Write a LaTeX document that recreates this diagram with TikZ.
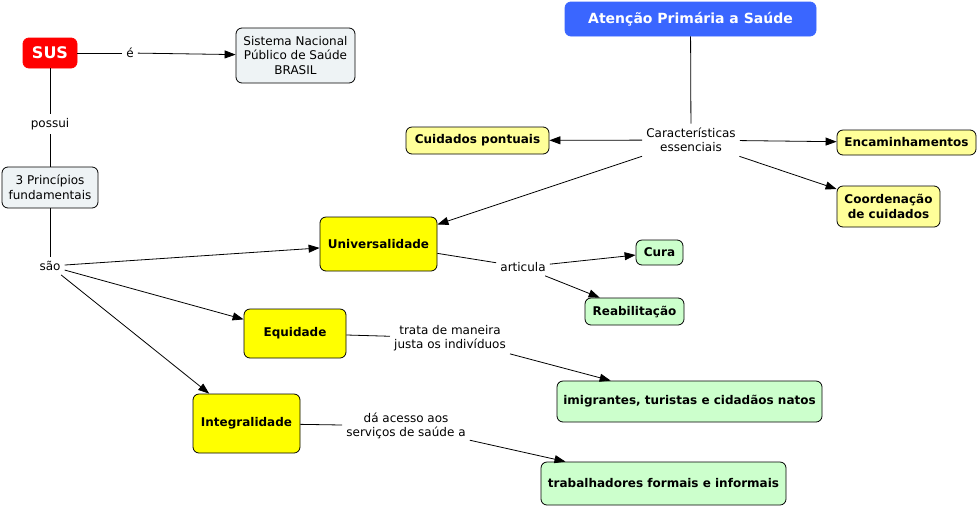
\documentclass[tikz,border=0pt]{standalone}
\usepackage{fontspec}
\setmainfont{DejaVu Sans}
\usetikzlibrary{arrows.meta}
\definecolor{susred}{HTML}{FF0000}
\definecolor{apsblue}{HTML}{3A66FF}
\definecolor{greybox}{HTML}{EEF3F5}
\definecolor{yel}{HTML}{FFFF00}
\definecolor{paleyel}{HTML}{FFFF99}
\definecolor{palegreen}{HTML}{CCFFCC}
\tikzset{
  every node/.style={font=\fontsize{12}{14.5}\selectfont},
  box/.style={draw=black, line width=0.8pt, rounded corners=6pt, align=center, inner sep=2pt},
  greyc/.style={box, fill=greybox},
  yelc/.style={box, fill=yel, font=\fontsize{12}{14.5}\selectfont\bfseries},
  palec/.style={box, fill=paleyel, font=\fontsize{12}{14.5}\selectfont\bfseries},
  greenc/.style={box, fill=palegreen, font=\fontsize{12}{14.5}\selectfont\bfseries},
  lbl/.style={align=center, inner sep=4pt, fill=white},
  conn/.style={line width=0.8pt, draw=black},
  arr/.style={conn, -{Triangle[length=11pt,width=8pt]}},
}
\begin{document}
\begin{tikzpicture}[x=1pt,y=-1pt]
\useasboundingbox (0,0) rectangle (979,507);
% nodes
\node[box, draw=susred, fill=susred, text=white, font=\fontsize{16}{18}\selectfont\bfseries, minimum width=54pt, minimum height=30pt] (sus) at (50,53) {SUS};
\node[greyc, minimum width=119pt, minimum height=55pt] (sis) at (295.5,55.5) {Sistema Nacional\\Público de Saúde\\BRASIL};
\node[greyc, minimum width=96pt, minimum height=41pt] (tres) at (50,187.5) {3 Princípios\\fundamentais};
\node[box, draw=apsblue, fill=apsblue, text=white, font=\fontsize{14}{16}\selectfont\bfseries, minimum width=251pt, minimum height=34pt] (aps) at (690.5,19) {Atenção Primária a Saúde};

\node[yelc, minimum width=117pt, minimum height=54pt] (uni) at (378.5,244) {Universalidade};
\node[yelc, minimum width=102pt, minimum height=49pt] (equ) at (295,333.5) {Equidade};
\node[yelc, minimum width=107pt, minimum height=59pt] (int) at (246.5,423.5) {Integralidade};

\node[palec, minimum width=143pt, minimum height=27pt] (cui) at (477.5,140.5) {Cuidados pontuais};
\node[palec, minimum width=139pt, minimum height=25pt] (enc) at (906.5,142.5) {Encaminhamentos};
\node[palec, minimum width=103pt, minimum height=41pt] (coo) at (888.5,206.5) {Coordenação\\de cuidados};

\node[greenc, minimum width=47pt, minimum height=25pt] (cura) at (659.5,252.5) {Cura};
\node[greenc, minimum width=99pt, minimum height=27pt] (rea) at (634.5,311.5) {Reabilitação};
\node[greenc, minimum width=265pt, minimum height=41pt] (imi) at (689.5,401.5) {imigrantes, turistas e cidadãos natos};
\node[greenc, minimum width=245pt, minimum height=43pt] (tra) at (663.5,483.5) {trabalhadores formais e informais};

% labels
\node[lbl] (e) at (130,53) {é};
\node[lbl] (possui) at (50,124) {possui};
\node[lbl] (sao) at (50,266) {são};
\node[lbl] (car) at (691,140) {Características\\essenciais};
\node[lbl] (art) at (523,267) {articula};
\node[lbl] (trata) at (450,338) {trata de maneira\\justa os indivíduos};
\node[lbl] (da) at (406,426) {dá acesso aos\\serviços de saúde a};

% connectors
\draw[conn] (sus) -- (e);
\draw[arr] (e) -- (sis);
\draw[conn] (sus) -- (possui);
\draw[conn] (possui) -- (tres);
\draw[conn] (tres) -- (sao);
\draw[arr] (sao) -- (uni);
\draw[arr] (sao) -- (equ);
\draw[arr] (sao) -- (int);
\draw[conn] (aps) -- (car);
\draw[arr] (car) -- (cui);
\draw[arr] (car) -- (enc);
\draw[arr] (car) -- (coo);
\draw[arr] (car) -- (uni);
\draw[conn] (uni) -- (art);
\draw[arr] (art) -- (cura);
\draw[arr] (art) -- (rea);
\draw[conn] (equ) -- (trata);
\draw[arr] (trata) -- (imi);
\draw[conn] (int) -- (da);
\draw[arr] (da) -- (tra);
\end{tikzpicture}
\end{document}
